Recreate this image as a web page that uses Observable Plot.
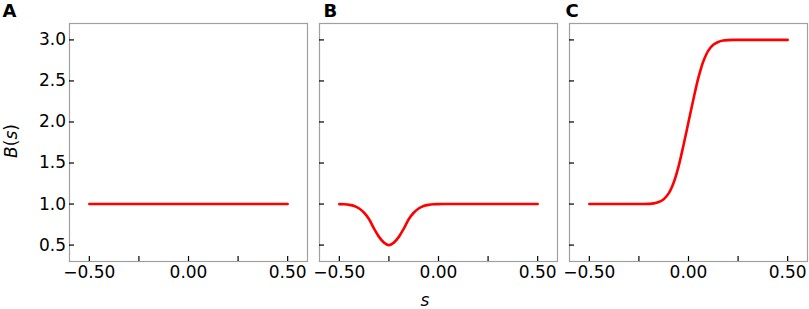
<!DOCTYPE html>
<html><head><meta charset="utf-8">
<script src="https://cdn.jsdelivr.net/npm/d3@7"></script>
<script src="https://cdn.jsdelivr.net/npm/@observablehq/plot@0.6"></script>
<style>body{margin:0;background:#fff} svg{display:block}</style>
</head><body><div id="chart"></div>
<script>
const panels = ["A", "B", "C"];
const sValues = [-0.5,-0.475,-0.45,-0.425,-0.4,-0.375,-0.35,-0.325,-0.3,-0.275,-0.25,-0.225,-0.2,-0.175,-0.15,-0.125,-0.1,-0.075,-0.05,-0.025,0,0.025,0.05,0.075,0.1,0.125,0.15,0.175,0.2,0.225,0.25,0.275,0.3,0.325,0.35,0.375,0.4,0.425,0.45,0.475,0.5];
const bA = [1,1,1,1,1,1,1,1,1,1,1,1,1,1,1,1,1,1,1,1,1,1,1,1,1,1,1,1,1,1,1,1,1,1,1,1,1,1,1,1,1];
const bB = [0.999,0.997,0.99,0.976,0.946,0.894,0.815,0.70,0.60,0.53,0.50,0.53,0.60,0.70,0.815,0.894,0.946,0.976,0.99,0.997,0.999,1,1,1,1,1,1,1,1,1,1,1,1,1,1,1,1,1,1,1,1];
const bC = [1,1,1,1,1,1,1,1,1,1,1,1,1.002,1.008,1.025,1.06,1.13,1.26,1.46,1.72,2.0,2.28,2.54,2.74,2.87,2.94,2.975,2.992,2.998,3,3,3,3,3,3,3,3,3,3,3,3];
const yTicks = [0.5, 1.0, 1.5, 2.0, 2.5, 3.0];
const yTickLabels = ["0.5", "1.0", "1.5", "2.0", "2.5", "3.0"];
const xTicks = [-0.5, -0.25, 0, 0.25, 0.5];
const xLabelTicks = [-0.5, 0, 0.5];
const xTickLabels = ["\u22120.50", "0.00", "0.50"];

const series = [bA, bB, bC];
const rows = panels.flatMap((p, i) => sValues.map((s, j) => ({panel: p, s, b: series[i][j]})));
const yLabelMap = new Map(yTicks.map((t, i) => [t, yTickLabels[i]]));
const xLabelMap = new Map(xLabelTicks.map((t, i) => [t, xTickLabels[i]]));

const letter = (p, dx) => Plot.text([p], {fx: d => d, text: d => d, frameAnchor: "top-left", textAnchor: "start", lineAnchor: "top", dx, dy: -19, fontWeight: "bold", fontSize: 18, fontFamily: "DejaVu Sans"});

const svg = Plot.plot({
  width: 809, height: 309,
  marginTop: 23, marginBottom: 48, marginLeft: 69, marginRight: 2,
  style: {fontFamily: "DejaVu Sans", fontSize: "17px", color: "black", background: "white"},
  fx: {domain: panels, paddingInner: 0.048, paddingOuter: 0, axis: null, label: null},
  x: {domain: [-0.6, 0.6], label: null},
  y: {domain: [0.3, 3.2], label: null},
  marks: [
    Plot.frame({stroke: "#a0a0a0", strokeWidth: 1.2}),
    Plot.axisY(yTicks, {tickSize: -5, fill: "none", facetAnchor: null, label: null, strokeWidth: 1.2}),
    Plot.axisY(yTicks, {tickSize: 0, tickPadding: 3.5, tickFormat: d => yLabelMap.get(d), label: null, fontSize: 17, fontFamily: "DejaVu Sans"}),
    Plot.axisX(xTicks, {tickSize: -5, fill: "none", label: null, strokeWidth: 1.2}),
    Plot.axisX(xLabelTicks, {tickSize: 0, tickPadding: 4, tickFormat: d => xLabelMap.get(d), label: null, fontSize: 17, fontFamily: "DejaVu Sans"}),
    Plot.line(rows, {fx: "panel", x: "s", y: "b", stroke: "#ff0000", strokeWidth: 2.6, curve: "catmull-rom"}),
    letter("A", -67),
    letter("B", 4),
    letter("C", -4)
  ]
});

const root = d3.select(svg);
const yl = root.append("text")
  .attr("transform", "translate(17,141) rotate(-90)")
  .attr("text-anchor", "middle")
  .attr("font-family", "DejaVu Sans")
  .attr("font-size", 17)
  .attr("fill", "black");
yl.append("tspan").attr("font-style", "italic").text("B");
yl.append("tspan").text("(");
yl.append("tspan").attr("font-style", "italic").text("s");
yl.append("tspan").text(")");

root.append("text")
  .attr("x", 425).attr("y", 306)
  .attr("text-anchor", "middle")
  .attr("font-family", "DejaVu Sans")
  .attr("font-size", 17)
  .attr("font-style", "italic")
  .attr("fill", "black")
  .text("s");

document.getElementById("chart").append(svg);
</script>
</body></html>
